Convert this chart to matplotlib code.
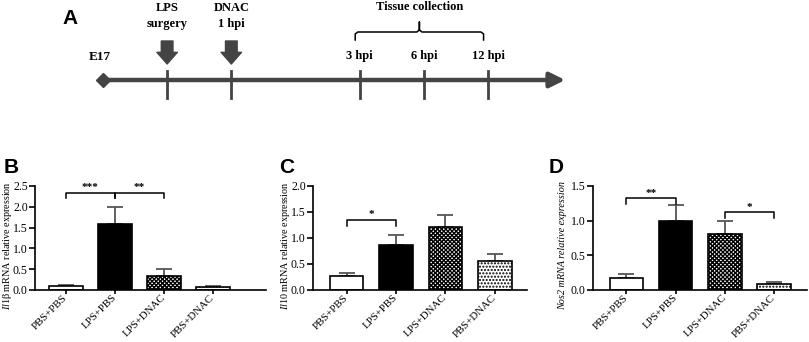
import matplotlib.pyplot as plt
import numpy as np

plt.rcParams['font.family'] = ['Liberation Serif', 'DejaVu Serif']
plt.rcParams['mathtext.fontset'] = 'custom'
plt.rcParams['mathtext.it'] = 'Liberation Serif:italic'
plt.rcParams['mathtext.rm'] = 'Liberation Serif'
plt.rcParams['hatch.linewidth'] = 1.0

# ---- panel A: timeline (x in event slots) ----
start_slot = 0
start_label = 'E17'
tick_slots = [1, 2, 4, 5, 6]
arrow_slots = [1, 2]
arrow_labels = ['LPS\nsurgery', 'DNAC\n1 hpi']
hpi_slots = [4, 5, 6]
hpi_labels = ['3 hpi', '6 hpi', '12 hpi']
timeline_end = 7.2
collection_range = (3.93, 5.93)
collection_label = 'Tissue collection'

# ---- panels B-D: qPCR bars ----
groups = ['PBS+PBS', 'LPS+PBS', 'LPS+DNAC', 'PBS+DNAC']
il1b_mean = [0.09, 1.59, 0.34, 0.07]
il1b_err = [0.04, 0.41, 0.17, 0.02]
il10_mean = [0.26, 0.87, 1.21, 0.55]
il10_err = [0.06, 0.19, 0.24, 0.14]
nos2_mean = [0.17, 1.00, 0.81, 0.09]
nos2_err = [0.06, 0.23, 0.19, 0.02]

il1b_sig = [(0, 1, 2.34, '***'), (1, 2, 2.34, '**')]
il10_sig = [(0, 1, 1.35, '*')]
nos2_sig = [(0, 1, 1.32, '**'), (2, 3, 1.12, '*')]

dark = '#444444'
W, H = 809, 342
fig = plt.figure(figsize=(W / 100, H / 100), dpi=100)

# timeline axes: x in slots, y in pixels from the top
ax_a = fig.add_axes([0, 1 - 120 / H, 1, 120 / H])
ax_a.set_xlim(-1.604, 11.0)
ax_a.set_ylim(120, 0)
ax_a.axis('off')

line_y = 80
ax_a.annotate('', xy=(timeline_end, line_y), xytext=(start_slot, line_y),
              arrowprops=dict(arrowstyle='-|>,head_length=0.9,head_width=0.45',
                              lw=3.2, color=dark, shrinkA=0, shrinkB=0))
ax_a.plot(start_slot, line_y, marker='D', ms=7, color=dark)
ax_a.text(start_slot - 0.05, 57, start_label, ha='center', va='center',
          fontsize=9.5, fontweight='bold')
for s in tick_slots:
    ax_a.plot([s, s], [71, 98], color=dark, lw=2)
for s, lab in zip(arrow_slots, arrow_labels):
    ax_a.annotate('', xy=(s, 64), xytext=(s, 41),
                  arrowprops=dict(arrowstyle='simple,head_length=0.6,head_width=1.05,tail_width=0.6',
                                  color=dark, shrinkA=0, shrinkB=0, mutation_scale=14))
    ax_a.text(s, 16, lab, ha='center', va='center', fontsize=9,
              fontweight='bold', linespacing=1.5)
for s, lab in zip(hpi_slots, hpi_labels):
    ax_a.text(s, 56, lab, ha='center', va='center', fontsize=9, fontweight='bold')

x0, x1 = collection_range
xm = (x0 + x1) / 2
ax_a.plot([x0, x0, x0 + 0.04, xm - 0.04, xm, xm, xm, xm + 0.04, x1 - 0.04, x1, x1],
          [40, 34, 32, 32, 30, 22, 30, 32, 32, 34, 40], color='black', lw=1.1)
ax_a.text(xm, 7, collection_label, ha='center', va='center', fontsize=9,
          fontweight='bold')

fig.text(62 / W, 1 - 24 / H, 'A', fontsize=15, fontweight='bold',
         family='Liberation Sans')


def bar_panel(rect, means, errs, sigs, ymax, ylabel, letter, letter_x, label_x,
              xlim, label_style='normal'):
    ax = fig.add_axes(rect)
    x = np.arange(len(groups))
    styles = [dict(color='white', hatch=None), dict(color='black', hatch=None),
              dict(color='white', hatch='xxxxxxxx'), dict(color='white', hatch='.....')]
    for xi, m, e, st in zip(x, means, errs, styles):
        ax.errorbar(xi, m, yerr=[[0], [e]], fmt='none', ecolor='#555555',
                    elinewidth=1.3, capsize=6, capthick=1.3, zorder=1)
        ax.bar(xi, m, width=0.68, color=st['color'], edgecolor='black',
               linewidth=1.2, hatch=st['hatch'], zorder=2)
    leg = ymax * 0.055
    for i, j, y, lab in sigs:
        ax.plot([i, i, j, j], [y - leg, y, y, y - leg], color='black', lw=1.1)
        ax.text((i + j) / 2, y + ymax * 0.005, lab, ha='center', va='bottom',
                fontsize=8, fontweight='bold')
    ax.set_xlim(*xlim)
    ax.set_ylim(0, ymax)
    ax.set_yticks(np.arange(0, ymax + 0.01, 0.5))
    ax.set_yticklabels([f'{v:.1f}' for v in np.arange(0, ymax + 0.01, 0.5)])
    ax.set_xticks(x)
    ax.set_xticklabels(groups, rotation=45, ha='right', va='center',
                       rotation_mode='anchor')
    for sp in ['top', 'right']:
        ax.spines[sp].set_visible(False)
    for sp in ['left', 'bottom']:
        ax.spines[sp].set_linewidth(1.2)
    ax.tick_params(axis='y', labelsize=8.5, length=4, width=1.2, pad=1.2)
    ax.tick_params(axis='x', labelsize=7.8, length=3, width=1.2, pad=1.5)
    ax.set_ylabel(ylabel, fontsize=7.3, style=label_style)
    ax.yaxis.set_label_coords(label_x, 0.43)
    fig.text(letter_x / W, 1 - 173 / H, letter, fontsize=15, fontweight='bold',
             family='Liberation Sans')
    return ax


bot = (H - 290) / H
hgt = 104 / H
bar_panel([35 / W, bot, 231 / W, hgt], il1b_mean, il1b_err, il1b_sig, 2.5,
          r'$\mathit{Il1}$β mRNA relative expression', 'B', 4, -0.092,
          (-0.63, 4.08))
bar_panel([313 / W, bot, 214 / W, hgt], il10_mean, il10_err, il10_sig, 2.0,
          r'$\mathit{Il10}$ mRNA relative expression', 'C', 279, -0.1,
          (-0.68, 3.65))
bar_panel([593 / W, bot, 214 / W, hgt], nos2_mean, nos2_err, nos2_sig, 1.5,
          'Nos2 mRNA relative expression', 'D', 549, -0.12,
          (-0.68, 3.67), label_style='italic')

fig.savefig('out.png', dpi=100)
